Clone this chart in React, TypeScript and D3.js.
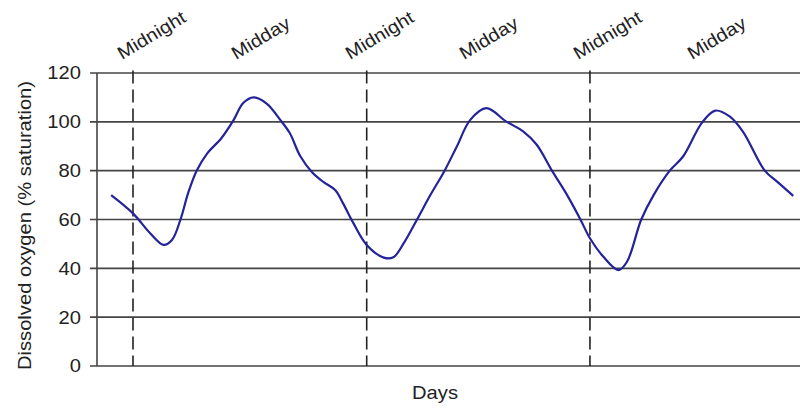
import React from "react";
import * as d3 from "d3";

const hours = [-2.3, 0.0, 1.8, 3.2, 4.1, 5.0, 5.8, 6.7, 7.8, 9.3, 10.6, 11.6, 12.7, 14.1, 15.5, 16.5, 17.6, 18.8, 20.0, 21.3, 22.1, 23.2, 24.6, 26.4, 27.4, 28.5, 29.9, 31.3, 32.8, 34.1, 35.5, 37.2, 39.3, 41.1, 42.5, 44.1, 45.7, 47.1, 48.1, 49.5, 51.1, 52.0, 53.5, 54.8, 56.5, 57.9, 59.9, 61.3, 62.8, 64.2, 66.5, 67.8, 69.5];
const oxygen = [70, 62.5, 54.4, 49.6, 51.6, 60, 70.8, 80, 87, 93.3, 100.8, 107.7, 110, 107.4, 100.8, 95.4, 86, 79.6, 75.5, 72, 66.7, 58.5, 49.6, 44.4, 44.5, 50.3, 60, 70, 80, 90, 100.8, 105.6, 100.1, 96, 90.6, 80, 70, 60, 52.3, 44.8, 39.3, 42.7, 60, 70, 80, 85.8, 99.7, 104.6, 102.2, 96, 80, 75.5, 69.7];
const midnightLines = [0, 24.6, 48.1];
const topLabels = ["Midnight", "Midday", "Midnight", "Midday", "Midnight", "Midday"];
const topLabelHours = [0, 12, 24, 36, 48, 60];
const yTicks = [0, 20, 40, 60, 80, 100, 120];

const W = 800, H = 411;
const FONT = "'Liberation Sans', Arial, sans-serif";
const SX = 1.12;

export default function App() {
  const x = d3.scaleLinear().domain([0, 48]).range([133, 589]);
  const y = d3.scaleLinear().domain([0, 120]).range([366, 73]);
  const axisX = 97;
  const data = hours.map((h, i) => [h, oxygen[i]] as [number, number]);
  const line = d3
    .line<[number, number]>()
    .x((d) => x(d[0]))
    .y((d) => y(d[1]))
    .curve(d3.curveCatmullRom.alpha(0.5));

  return (
    <svg width={W} height={H} style={{ position: "absolute", left: 0, top: 0, background: "#fff" }} fontFamily={FONT}>
      <rect width={W} height={H} fill="#fff" />
      {yTicks.map((t) => (
        <g key={t}>
          <line x1={90} x2={W} y1={y(t)} y2={y(t)} stroke="#444" strokeWidth={1.6} />
          <text
            transform={`translate(81,${y(t)}) scale(${SX},1)`}
            dy="0.36em"
            textAnchor="end"
            fontSize={18}
            fill="#222"
          >
            {t}
          </text>
        </g>
      ))}
      <line x1={axisX} x2={axisX} y1={y(120)} y2={y(0)} stroke="#444" strokeWidth={1.6} />
      {midnightLines.map((h, i) => (
        <line key={i} x1={x(h)} x2={x(h)} y1={y(121)} y2={y(0)} stroke="#222" strokeWidth={1.6} strokeDasharray="13,6" />
      ))}
      <path d={line(data) || ""} fill="none" stroke="#23239a" strokeWidth={2.2} />
      {topLabels.map((l, i) => (
        <text
          key={i}
          transform={`translate(${x(topLabelHours[i]) - 11},60) rotate(-31) scale(${SX},1)`}
          fontSize={18}
          fill="#222"
        >
          {l}
        </text>
      ))}
      <text
        transform={`translate(31,${(y(0) + y(120)) / 2 + 6}) rotate(-90) scale(${SX},1)`}
        textAnchor="middle"
        fontSize={18}
        fill="#222"
      >
        Dissolved oxygen (% saturation)
      </text>
      <text transform={`translate(435,399) scale(${SX},1)`} textAnchor="middle" fontSize={18} fill="#222">
        Days
      </text>
    </svg>
  );
}
